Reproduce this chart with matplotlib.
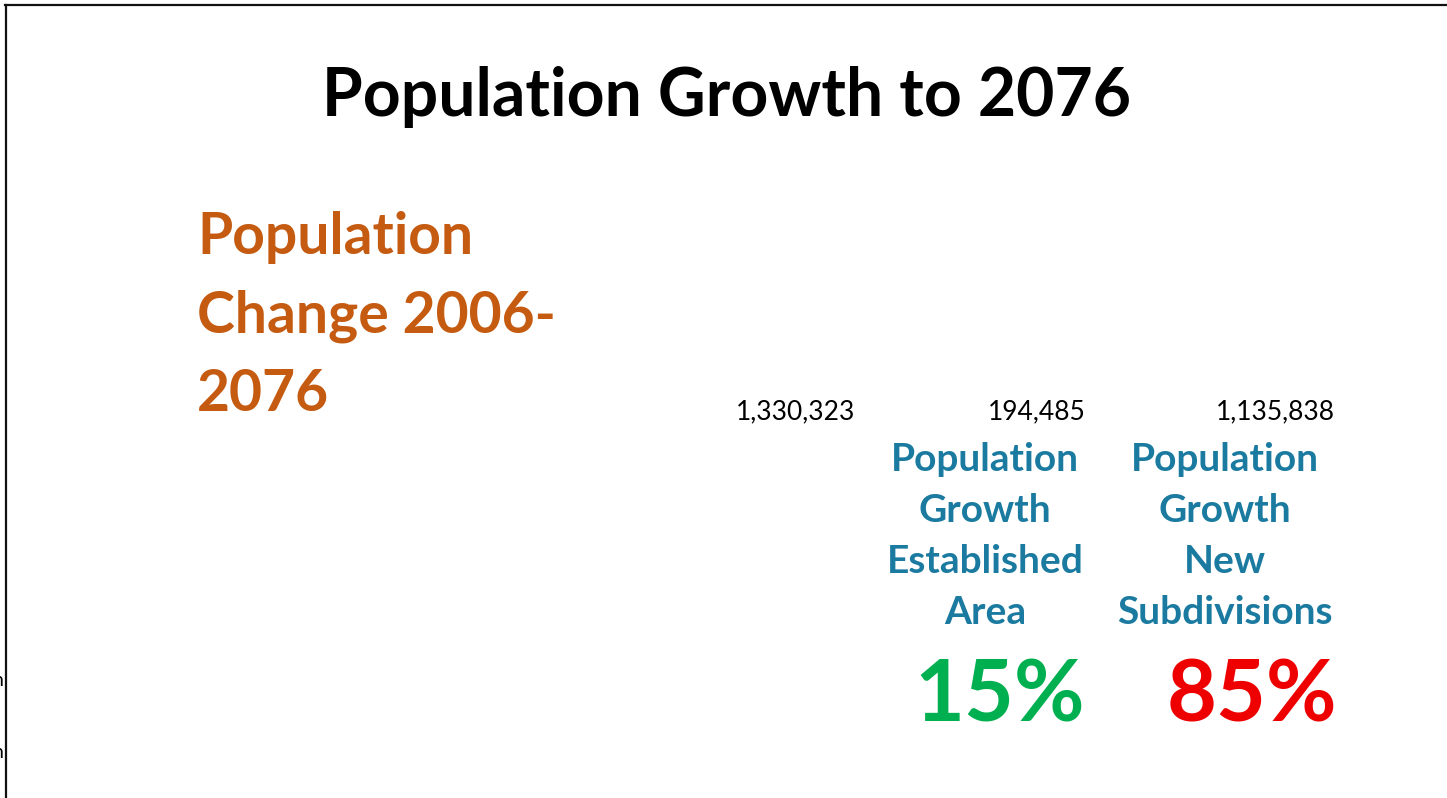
import matplotlib
matplotlib.use("Agg")
import matplotlib.pyplot as plt
from matplotlib.lines import Line2D
import matplotlib.transforms as mtransforms

plt.rcParams['font.family'] = ['Lato', 'DejaVu Sans']

# data
title = "Population Growth to 2076"
side_label = "Population\nChange 2006-\n2076"
categories = ["", "Population\nGrowth\nEstablished\nArea", "Population\nGrowth\nNew\nSubdivisions"]
values = [1330323, 194485, 1135838]
shares = [None, 15, 85]
share_colors = [None, "#00B050", "#EE0000"]

# layout: right edge of the labels, in category units past the centre
value_off = [0.458, 0.418, 0.458]
share_off = [0, 0.415, 0.468]

W, H = 1447, 798
fig = plt.figure(figsize=(W / 100, H / 100), dpi=100)
fig.patch.set_facecolor("white")

# slide frame (top and left edges only)
fig.add_artist(Line2D([5 / W, 1], [1 - 5 / H, 1 - 5 / H], color="#111111", lw=1.6))
fig.add_artist(Line2D([5.5 / W, 5.5 / W], [0, 1 - 5 / H], color="#111111", lw=1.6))

# clipped text from a neighbouring object
fig.text(3 / W, 1 - 680 / H, "n", ha="right", va="center", fontsize=14)
fig.text(3 / W, 1 - 752 / H, "n", ha="right", va="center", fontsize=14)

fig.text(727 / W, 1 - 97 / H, title, ha="center", va="center",
         fontsize=47.5, fontweight="bold", color="black")

fig.text(197 / W, 1 - 316 / H, side_label, ha="left", va="center",
         fontsize=41, fontweight="bold", color="#C55A11", linespacing=1.58)

# chart area: category i is centred at 745 + 240*i px
ax = fig.add_axes([625 / W, 1 - 760 / H, 760 / W, 380 / H])
ax.set_xlim(-0.5, 2.6667)
ax.set_ylim(0, 1)
ax.axis("off")
x = list(range(len(categories)))
ax.bar(x, [0] * len(x), color="none")
tr = mtransforms.blended_transform_factory(ax.transData, ax.transAxes)

def ypos(py):
    return (760 - py) / 380

for i, (cat, v) in enumerate(zip(categories, values)):
    ax.text(i + value_off[i], ypos(412), f"{v:,}", transform=tr, ha="right", va="center",
            fontsize=19, color="black")
    if cat:
        ax.text(i, ypos(536), cat, transform=tr, ha="center", va="center",
                fontsize=28, fontweight="bold", color="#1B7AA0", linespacing=1.56)
    if shares[i] is not None:
        ax.text(i + share_off[i], ypos(697), f"{shares[i]}%", transform=tr, ha="right",
                va="center", fontsize=62, fontweight="bold", color=share_colors[i])

fig.savefig("out.png", dpi=100, facecolor="white")
